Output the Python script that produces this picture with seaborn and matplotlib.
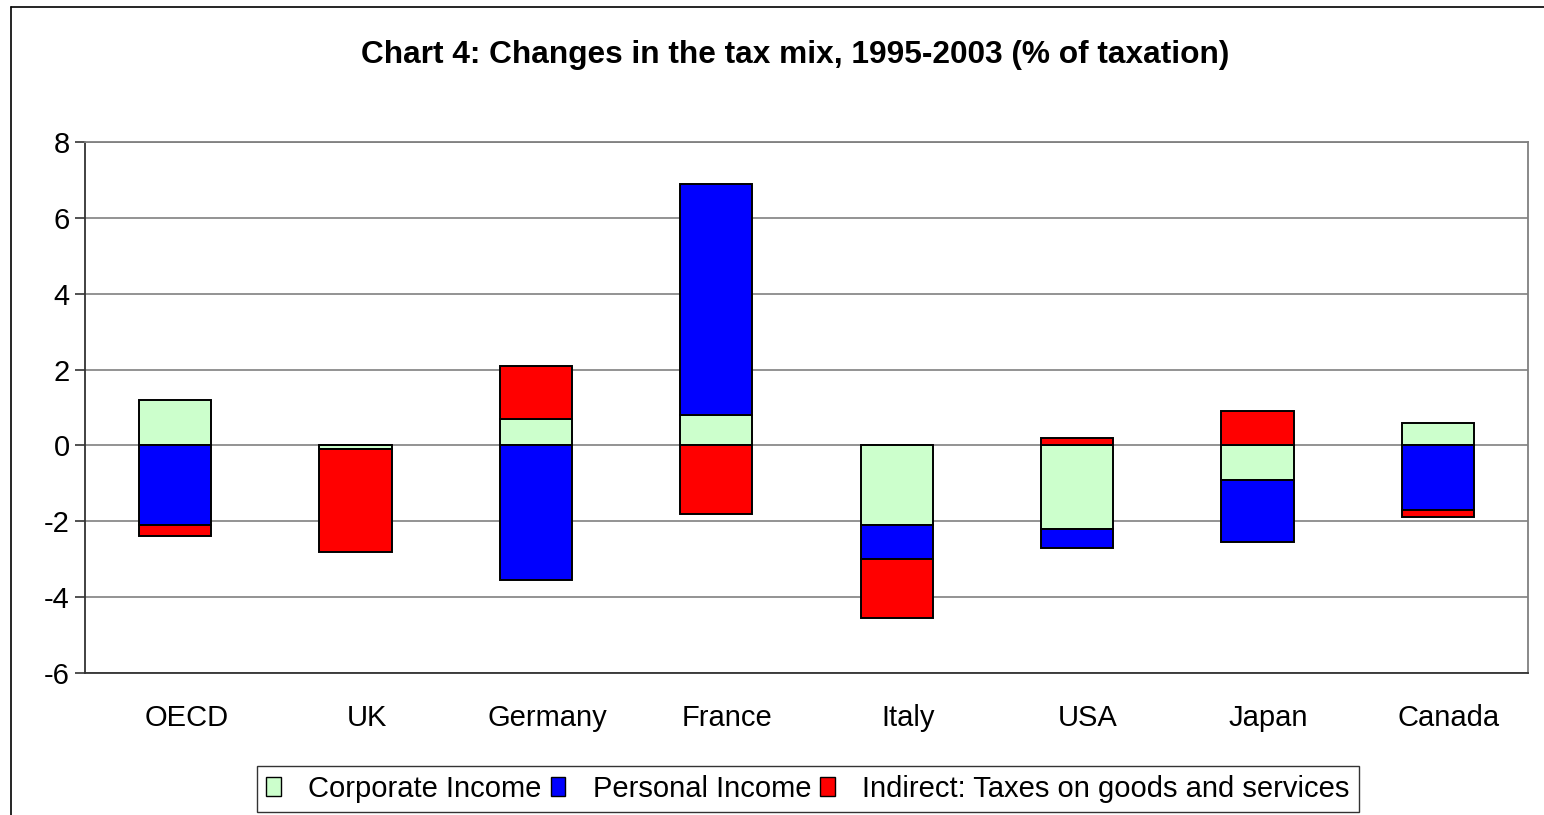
import numpy as np
import pandas as pd
import matplotlib
matplotlib.use("Agg")
import matplotlib.pyplot as plt
import matplotlib.transforms as mtransforms
import seaborn as sns
from matplotlib.patches import Patch
from matplotlib.lines import Line2D

countries = ["OECD", "UK", "Germany", "France", "Italy", "USA", "Japan", "Canada"]
series_names = ["Corporate Income", "Personal Income", "Indirect: Taxes on goods and services"]
corporate = [1.2, -0.1, 0.7, 0.8, -2.1, -2.2, -0.9, 0.6]
personal = [-2.1, 0.0, -3.55, 6.1, -0.9, -0.5, -1.65, -1.7]
indirect = [-0.3, -2.7, 1.4, -1.8, -1.55, 0.2, 0.9, -0.2]
yticks = [-6, -4, -2, 0, 2, 4, 6, 8]
title = "Chart 4: Changes in the tax mix, 1995-2003 (% of taxation)"

colors = ["#CCFFCC", "#0000FF", "#FF0000"]

sns.set_theme(style="white")
plt.rcParams["font.family"] = ["Liberation Sans", "DejaVu Sans"]
plt.rcParams["text.color"] = "black"
plt.rcParams["xtick.color"] = "black"
plt.rcParams["ytick.color"] = "black"
plt.rcParams["axes.labelcolor"] = "black"

fig = plt.figure(figsize=(15.44, 8.15), dpi=100)
ax = fig.add_axes([85 / 1544, 1 - 673 / 815, (1528 - 85) / 1544, (673 - 142) / 815])

pos_base = np.zeros(len(countries))
neg_base = np.zeros(len(countries))
for name, vals, col in zip(series_names, [corporate, personal, indirect], colors):
    vals = np.array(vals, dtype=float)
    bottoms = np.where(vals >= 0, pos_base, neg_base)
    df = pd.DataFrame({"country": countries, "value": vals})
    sns.barplot(data=df, x="country", y="value", order=countries, color=col,
                width=0.4, errorbar=None, saturation=1, ax=ax,
                bottom=bottoms, edgecolor="black", linewidth=1.4, zorder=3)
    pos_base = pos_base + np.where(vals >= 0, vals, 0)
    neg_base = neg_base + np.where(vals < 0, vals, 0)

ax.set_ylim(-6, 8)
ax.set_xlim(-0.5, len(countries) - 0.5)
ax.set_yticks(yticks)
ax.set_yticklabels([str(t) for t in yticks])
ax.set_xlabel("")
ax.set_ylabel("")
ax.yaxis.grid(True, color="#808080", linewidth=1.2, zorder=0)
ax.set_axisbelow(True)
ax.tick_params(axis="y", which="both", left=True, length=7, width=1.2,
               color="#333333", labelsize=21, pad=4, direction="out")
ax.tick_params(axis="x", length=0, labelsize=21, pad=22.5)
offset = mtransforms.ScaledTranslation(11 / 100, 0, fig.dpi_scale_trans)
for lbl in ax.get_xticklabels():
    lbl.set_transform(lbl.get_transform() + offset)
for s in ["top", "right", "bottom"]:
    ax.spines[s].set_color("#808080")
    ax.spines[s].set_linewidth(1.3)
ax.spines["bottom"].set_color("#333333")
ax.spines["left"].set_color("#333333")
ax.spines["left"].set_linewidth(1.3)

fig.text(795 / 1544, 1 - 55 / 815, title, ha="center", va="center",
         fontsize=22.8, fontweight="bold")

# outer chart frame (cut at right and bottom)
fig.add_artist(Line2D([10.5 / 1544, 10.5 / 1544], [0, 1 - 6.5 / 815],
                      transform=fig.transFigure, color="black", linewidth=1.2))
fig.add_artist(Line2D([10.5 / 1544, 1], [1 - 6.5 / 815, 1 - 6.5 / 815],
                      transform=fig.transFigure, color="black", linewidth=1.2))

handles = [Patch(facecolor=c, edgecolor="black", linewidth=1.0) for c in colors]
leg = fig.legend(handles, series_names, ncol=3, loc="center",
                 bbox_to_anchor=(808 / 1544, 1 - 789 / 815),
                 frameon=True, fancybox=False, fontsize=21,
                 handlelength=0.5, handleheight=0.6, handletextpad=0.95,
                 columnspacing=0.3, borderpad=0.3, borderaxespad=0)
leg.get_frame().set_edgecolor("black")
leg.get_frame().set_linewidth(1.0)

fig.savefig("out.png", dpi=100, facecolor="white")
